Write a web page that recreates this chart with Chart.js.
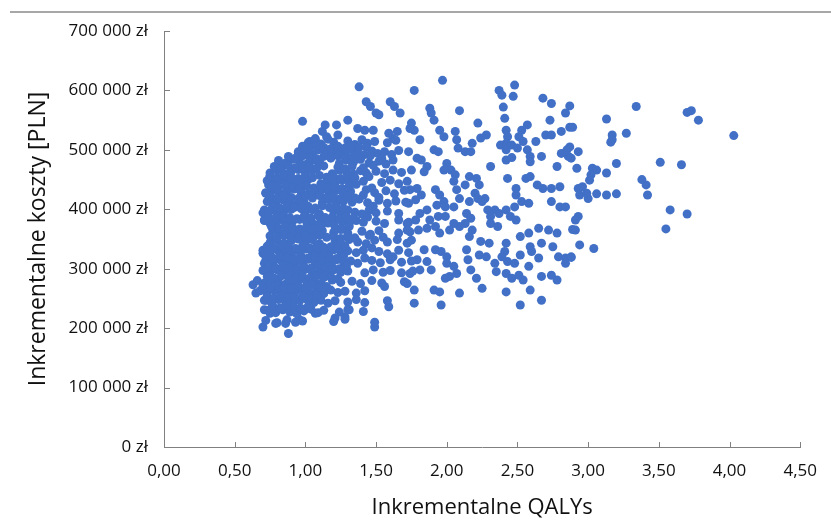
<!DOCTYPE html>
<html lang="pl">
<head>
<meta charset="utf-8">
<title>Inkrementalne koszty vs QALYs</title>
<script src="https://cdn.jsdelivr.net/npm/chart.js@4.4.1/dist/chart.umd.min.js"></script>
<style>
  html, body { margin: 0; padding: 0; background: #fff; }
  #wrap { width: 831px; height: 529px; }
</style>
</head>
<body>
<div id="wrap"><canvas id="ce" width="831" height="529"></canvas></div>
<script>
// Symulacje probabilistyczne: przyrost QALY i przyrost kosztów (tys. zł)
const qaly = [
  1.97, 1.77, 2.37, 2.39, 2.48, 2.47, 2.68, 2.74, 2.87, 2.84,
  1.88, 1.89, 1.91, 2.09, 2.40, 2.41, 2.73, 2.57, 2.53, 1.75,
  1.77, 2.22, 1.95, 1.98, 2.06, 2.07, 1.81, 2.28, 2.24, 2.42,
  2.43, 2.42, 2.46, 2.51, 2.54, 2.63, 2.70, 2.74, 2.81, 2.87,
  2.08, 2.13, 2.17, 2.18, 1.91, 1.94, 2.38, 2.42, 2.50, 2.57,
  2.59, 2.67, 2.81, 2.86, 2.93, 2.87, 1.73, 1.79, 1.82, 1.86,
  1.84, 1.75, 2.00, 2.03, 1.98, 2.31, 2.42, 2.46, 2.59, 2.78,
  2.92, 2.16, 2.21, 2.23, 2.13, 2.20, 2.27, 2.06, 2.05, 2.43,
  2.56, 2.59, 2.64, 2.68, 2.74, 2.80, 2.93, 2.94, 2.49, 2.49,
  1.74, 1.79, 1.82, 1.78, 1.73, 1.92, 1.95, 1.98, 1.93, 1.99,
  2.07, 2.09, 2.05, 2.16, 2.22, 2.25, 2.53, 2.58, 2.74, 2.80,
  2.29, 2.34, 2.37, 2.42, 2.48, 2.45, 2.49, 2.31, 2.31, 2.36,
  2.14, 2.17, 2.13, 2.09, 2.05, 1.99, 1.94, 1.88, 1.86, 1.81,
  1.78, 1.72, 1.74, 1.80, 1.86, 1.92, 1.95, 2.02, 2.18, 2.16,
  2.24, 2.30, 2.42, 2.41, 2.52, 2.58, 2.65, 2.72, 2.78, 2.59,
  2.67, 2.75, 2.91, 2.94, 1.84, 1.92, 1.96, 2.00, 1.72, 1.75,
  2.14, 2.23, 2.28, 2.34, 2.39, 2.43, 2.48, 2.52, 2.60, 2.65,
  2.58, 2.79, 2.84, 2.88, 1.79, 1.86, 1.89, 1.81, 1.74, 2.00,
  2.05, 2.07, 2.02, 2.15, 2.17, 2.21, 2.25, 2.35, 2.42, 2.46,
  2.51, 2.54, 2.67, 2.74, 2.78, 1.72, 1.77, 1.91, 1.95, 1.99,
  2.09, 2.42, 2.59, 2.67, 1.77, 1.96, 2.52,
  3.34, 3.13, 2.89, 3.17, 3.17, 3.16, 3.27, 2.88, 2.85, 3.20,
  3.51, 3.66, 3.03, 3.06, 3.02, 3.01, 3.13, 3.38, 3.41, 3.42,
  2.96, 3.00, 2.99, 3.06, 3.13, 3.20, 2.84, 2.93, 2.91, 2.89,
  3.58, 3.70, 3.55, 3.70, 3.73, 3.78, 4.03, 3.04, 2.88, 2.84,
  1.38, 1.43, 1.46, 1.50, 1.52, 1.60, 1.63, 1.67, 0.98, 1.14,
  1.22, 1.12, 1.15, 1.23, 1.30, 1.37, 1.42, 1.48, 1.59, 1.65,
  1.62, 1.74, 1.03, 1.07, 0.98, 0.95, 0.81, 0.75, 0.74, 0.72,
  0.73, 0.71, 0.71, 0.75, 0.70, 0.71, 0.74, 0.63, 0.65, 0.72,
  0.71, 0.75, 0.70, 0.79, 0.88, 0.86, 0.96, 0.95, 1.07, 1.21,
  1.28, 1.31, 1.49, 1.56, 1.59, 0.72, 0.78,
  1.02, 1.07, 1.11, 1.16, 1.20, 1.30, 1.35, 1.40, 1.44, 1.49, 1.58, 1.64,
  0.95, 1.00, 1.05, 1.09, 1.14, 1.19, 1.23, 1.28, 1.33, 1.37, 1.42, 1.47, 1.51, 1.56, 1.61, 1.66,
  0.81, 0.86, 0.91, 0.96, 1.01, 1.06, 1.10, 1.24, 1.29, 1.34, 1.39, 1.45, 1.52, 1.57, 1.62,
  0.75, 0.80, 0.85, 0.90, 0.95, 1.00, 1.05, 1.19, 1.24, 1.29, 1.34, 1.39, 1.43, 1.50, 1.56, 1.62, 1.68,
  0.73, 0.78, 0.83, 0.88, 0.93, 0.98, 1.02, 1.11, 1.16, 1.21, 1.26, 1.31, 1.36, 1.41, 1.54, 1.60, 1.66, 1.72,
  0.72, 0.77, 0.82, 0.87, 0.92, 0.97, 1.02, 1.07, 1.12, 1.17, 1.22, 1.27, 1.32, 1.43, 1.49, 1.57, 1.63, 1.70,
  0.74, 0.79, 0.84, 0.89, 0.94, 0.99, 1.12, 1.17, 1.22, 1.27, 1.33, 1.38, 1.44, 1.52, 1.58, 1.64, 1.71,
  0.70, 0.75, 0.80, 0.85, 0.90, 1.00, 1.05, 1.10, 1.20, 1.25, 1.30, 1.35, 1.40, 1.45, 1.50, 1.58, 1.66,
  0.71, 0.76, 0.81, 0.86, 0.91, 0.96, 1.01, 1.06, 1.11, 1.16, 1.21, 1.26, 1.31, 1.36, 1.41, 1.50, 1.56, 1.66, 1.73,
  0.77, 0.82, 0.87, 0.92, 0.97, 1.02, 1.07, 1.12, 1.20, 1.25, 1.30, 1.40, 1.46, 1.52, 1.66, 1.72,
  0.75, 0.80, 0.85, 0.90, 0.95, 1.00, 1.05, 1.10, 1.21, 1.25, 1.31, 1.37, 1.43, 1.49, 1.58, 1.65,
  0.70, 0.75, 0.80, 0.85, 0.90, 0.95, 1.00, 1.05, 1.10, 1.15, 1.20, 1.25, 1.30, 1.36, 1.41, 1.52, 1.58, 1.66, 1.73,
  0.72, 0.77, 0.82, 0.87, 0.92, 0.97, 1.02, 1.07, 1.12, 1.17, 1.22, 1.27, 1.32, 1.37, 1.47, 1.53, 1.60, 1.68, 1.75,
  0.70, 0.75, 0.80, 0.85, 0.90, 0.95, 1.00, 1.05, 1.10, 1.15, 1.20, 1.25, 1.30, 1.42, 1.48, 1.55, 1.60, 1.68, 1.76,
  0.66, 0.71, 0.76, 0.81, 0.86, 0.91, 0.96, 1.01, 1.06, 1.11, 1.19, 1.25, 1.33, 1.39, 1.47, 1.54, 1.70,
  0.68, 0.73, 0.78, 0.83, 0.88, 0.93, 0.98, 1.03, 1.08, 1.13, 1.18, 1.23, 1.28, 1.36, 1.42,
  0.71, 0.76, 0.81, 0.86, 0.91, 0.96, 1.01, 1.06, 1.11, 1.16, 1.21, 1.30, 1.36, 1.42, 1.58,
  0.74, 0.79, 0.84, 0.89, 0.94, 0.99, 1.04, 1.09, 1.13, 1.24, 1.30, 1.41,
  0.72, 0.80, 0.87, 0.93, 0.98, 1.20, 1.28, 1.49,
  0.98, 1.03, 1.08, 1.13, 1.18, 1.23, 1.28, 1.33, 1.38, 1.43,
  0.88, 0.93, 0.98, 1.03, 1.08, 1.13, 1.18, 1.23, 1.28, 1.33, 1.38, 1.46, 1.54,
  0.78, 0.83, 0.88, 0.93, 0.98, 1.03, 1.08, 1.13, 1.23, 1.28, 1.33, 1.41, 1.48,
  0.75, 0.80, 0.85, 0.90, 0.95, 1.00, 1.05, 1.10, 1.15, 1.20, 1.25, 1.30, 1.35, 1.45,
  0.76, 0.81, 0.86, 0.91, 0.96, 1.01, 1.06, 1.11, 1.16, 1.21, 1.26, 1.31, 1.47,
  0.75, 0.80, 0.85, 0.90, 0.95, 1.00, 1.05, 1.10, 1.15, 1.20, 1.25, 1.30, 1.35, 1.41, 1.52,
  0.77, 0.82, 0.87, 0.92, 0.97, 1.02, 1.07, 1.12, 1.17, 1.22, 1.27, 1.48,
  0.74, 0.79, 0.84, 0.89, 0.94, 0.99, 1.04, 1.09, 1.14, 1.19, 1.24, 1.29, 1.34, 1.44,
  0.76, 0.81, 0.86, 0.91, 0.96, 1.01, 1.06, 1.11, 1.21, 1.26, 1.31,
  0.75, 0.80, 0.85, 0.90, 0.95, 1.00, 1.05, 1.10, 1.15, 1.20, 1.25, 1.30, 1.35, 1.45, 1.55,
  0.73, 0.78, 0.83, 0.88, 0.93, 0.98, 1.03, 1.08, 1.13, 1.18, 1.23, 1.28, 1.47,
  0.72, 0.77, 0.82, 0.87, 0.92, 0.97, 1.02, 1.07, 1.12, 1.17, 1.22, 1.27, 1.42, 1.62,
  0.74, 0.79, 0.84, 0.89, 0.94, 0.99, 1.04, 1.09, 1.14, 1.19, 1.24, 1.29,
  0.73, 0.78, 0.83, 0.88, 0.93, 0.98, 1.03, 1.08, 1.13, 1.18, 1.23,
  0.70, 0.75, 0.80, 0.85, 0.90, 0.95, 1.00, 1.05, 1.10, 1.15,
  0.73, 0.78, 0.83, 0.88, 0.93, 0.98, 1.03, 1.08,
  0.77, 0.82, 0.87, 0.92, 0.97, 1.02
];

const kosztTys = [
  617, 600, 600, 592, 609, 590, 587, 578, 574, 562,
  570, 562, 550, 566, 572, 553, 550, 542, 533, 545,
  533, 545, 533, 522, 531, 517, 517, 525, 520, 533,
  522, 511, 508, 522, 514, 514, 525, 525, 531, 538,
  503, 497, 497, 511, 500, 497, 508, 500, 503, 500,
  489, 489, 494, 489, 497, 505, 497, 486, 483, 472,
  463, 466, 477, 466, 466, 472, 483, 487, 480, 472,
  469, 455, 452, 441, 441, 427, 418, 458, 447, 452,
  452, 455, 441, 435, 435, 438, 435, 424, 435, 424,
  433, 435, 424, 416, 410, 433, 424, 413, 407, 404,
  433, 418, 404, 413, 418, 413, 413, 410, 413, 404,
  399, 399, 393, 399, 404, 388, 382, 388, 376, 371,
  393, 385, 376, 371, 376, 388, 388, 382, 399, 393,
  382, 376, 362, 365, 368, 371, 360, 365, 365, 354,
  346, 343, 343, 329, 354, 360, 368, 365, 360, 337,
  343, 337, 365, 340, 332, 332, 329, 320, 343, 348,
  332, 323, 320, 309, 320, 312, 309, 323, 329, 318,
  304, 320, 318, 320, 315, 312, 298, 298, 292, 309,
  304, 292, 287, 315, 298, 284, 267, 295, 292, 284,
  289, 281, 287, 289, 281, 275, 264, 264, 261, 284,
  259, 261, 264, 247, 242, 239, 239,
  573, 552, 538, 525, 517, 513, 528, 486, 500, 477,
  479, 475, 469, 466, 458, 449, 461, 450, 441, 424,
  438, 418, 427, 426, 424, 426, 404, 388, 382, 366,
  399, 392, 367, 563, 566, 550, 524, 334, 319, 309,
  606, 581, 573, 562, 559, 581, 573, 562, 548, 542,
  542, 531, 522, 525, 550, 536, 533, 533, 528, 531,
  519, 536, 514, 519, 503, 497, 477, 455, 441, 427,
  413, 399, 382, 376, 326, 309, 318, 273, 259, 247,
  231, 225, 202, 208, 191, 208, 214, 231, 225, 217,
  219, 231, 202, 270, 236, 382, 379,
  512, 516, 510, 518, 513, 515, 509, 517, 511, 514, 512, 516,
  495, 499, 493, 500, 496, 491, 498, 494, 500, 495, 492, 498, 494, 497, 492, 499,
  482, 478, 484, 479, 476, 483, 480, 477, 483, 479, 484, 478, 481, 476, 483,
  461, 466, 460, 464, 467, 462, 465, 460, 466, 463, 459, 465, 461, 464, 460, 466, 462,
  448, 444, 449, 445, 442, 447, 450, 443, 448, 444, 449, 446, 442, 447, 445, 449, 443, 447,
  428, 432, 427, 431, 434, 429, 426, 431, 433, 428, 432, 427, 430, 433, 428, 431, 426, 432,
  415, 411, 416, 412, 409, 414, 411, 416, 410, 414, 412, 417, 411, 415, 410, 414, 412,
  394, 398, 393, 397, 400, 395, 399, 392, 397, 393, 399, 395, 392, 398, 394, 397, 393,
  381, 377, 382, 376, 380, 383, 378, 375, 381, 377, 382, 379, 376, 381, 378, 380, 376, 382, 378,
  364, 360, 365, 361, 358, 363, 359, 364, 361, 366, 360, 363, 358, 364, 360, 365,
  344, 348, 343, 347, 350, 345, 349, 342, 347, 344, 349, 345, 342, 348, 345, 349,
  331, 327, 332, 328, 325, 330, 333, 327, 331, 326, 332, 328, 330, 327, 331, 329, 325, 331, 327,
  314, 310, 315, 311, 308, 313, 316, 310, 314, 309, 315, 311, 313, 309, 314, 310, 315, 311, 313,
  297, 293, 298, 294, 291, 296, 299, 293, 297, 292, 298, 294, 296, 293, 298, 294, 297, 293, 296,
  280, 276, 281, 277, 274, 279, 282, 276, 280, 275, 281, 277, 279, 275, 280, 276, 278,
  263, 259, 264, 260, 257, 262, 265, 259, 263, 258, 264, 260, 262, 259, 263,
  247, 243, 248, 244, 241, 246, 249, 243, 247, 242, 246, 244, 248, 243, 246,
  230, 226, 231, 227, 224, 229, 232, 226, 230, 227, 231, 228,
  213, 209, 214, 210, 212, 211, 215, 210,
  506, 503, 507, 504, 502, 506, 503, 507, 504, 505,
  489, 486, 490, 487, 485, 489, 486, 490, 487, 488, 485, 490, 486,
  472, 469, 473, 470, 468, 472, 469, 473, 471, 468, 472, 470, 474,
  456, 453, 457, 454, 452, 456, 453, 457, 454, 455, 452, 456, 453, 455,
  439, 436, 440, 437, 435, 439, 436, 440, 437, 438, 435, 439, 436,
  422, 419, 423, 420, 418, 422, 419, 423, 420, 421, 418, 422, 419, 424, 420,
  405, 402, 406, 403, 401, 405, 402, 406, 403, 404, 401, 405,
  388, 385, 389, 386, 384, 388, 385, 389, 386, 387, 384, 388, 385, 387,
  371, 368, 372, 369, 367, 371, 368, 372, 370, 367, 371,
  355, 352, 356, 353, 351, 355, 352, 356, 353, 354, 351, 355, 352, 356, 353,
  338, 335, 339, 336, 334, 338, 335, 339, 336, 337, 334, 338, 335,
  321, 318, 322, 319, 317, 321, 318, 322, 319, 320, 317, 321, 318, 320,
  304, 301, 305, 302, 300, 304, 301, 305, 302, 303, 300, 304,
  287, 284, 288, 285, 283, 287, 284, 288, 285, 286, 283,
  271, 268, 272, 269, 267, 271, 268, 272, 269, 270,
  254, 251, 255, 252, 250, 254, 251, 255,
  237, 234, 238, 235, 233, 237
];

const xTickLabels = ['0,00', '0,50', '1,00', '1,50', '2,00', '2,50', '3,00', '3,50', '4,00', '4,50'];
const yTickLabels = ['0 zł', '100 000 zł', '200 000 zł', '300 000 zł', '400 000 zł',
                     '500 000 zł', '600 000 zł', '700 000 zł'];

const punkty = qaly.map((q, i) => ({ x: q, y: kosztTys[i] * 1000 }));

const FONT = "'Open Sans', 'Noto Sans', sans-serif";
const AXIS = '#808080';

// short tick marks pointing into the plot, plus the thin rule across the top
const innerTicks = {
    id: 'innerTicks',
    afterDraw(chart) {
        const { ctx, chartArea: a, scales: { x, y } } = chart;
        ctx.save();
        ctx.strokeStyle = AXIS;
        ctx.lineWidth = 1;
        ctx.beginPath();
        x.ticks.forEach(t => {
            const px = Math.round(x.getPixelForValue(t.value)) + 0.5;
            ctx.moveTo(px, a.bottom);
            ctx.lineTo(px, a.bottom - 5);
        });
        y.ticks.forEach(t => {
            const py = Math.round(y.getPixelForValue(t.value)) + 0.5;
            ctx.moveTo(a.left, py);
            ctx.lineTo(a.left + 6, py);
        });
        ctx.stroke();

        ctx.strokeStyle = '#8a8a8a';
        ctx.lineWidth = 1.5;
        ctx.beginPath();
        ctx.moveTo(10, 12);
        ctx.lineTo(chart.width, 12);
        ctx.stroke();
        ctx.restore();
    }
};

new Chart(document.getElementById('ce'), {
    type: 'scatter',
    data: {
        datasets: [{
            data: punkty,
            backgroundColor: '#4170c6',
            borderWidth: 0,
            pointRadius: 4.5,
            pointHoverRadius: 4.5
        }]
    },
    options: {
        responsive: false,
        animation: false,
        layout: { padding: { top: 31, right: 23, bottom: 8, left: 0 } },
        plugins: { legend: { display: false }, tooltip: { enabled: false } },
        scales: {
            x: {
                type: 'linear',
                min: 0,
                max: 4.5,
                grid: { display: false, drawTicks: false },
                border: { display: true, color: AXIS, width: 1 },
                ticks: {
                    stepSize: 0.5,
                    padding: 14,
                    color: '#111',
                    font: { family: FONT, size: 17 },
                    callback: (v, i) => xTickLabels[i]
                },
                title: {
                    display: true,
                    text: 'Inkrementalne QALYs',
                    color: '#111',
                    font: { family: FONT, size: 22 },
                    padding: { top: 0, bottom: 0 }
                },
                afterFit(s) { s.height = 74; }
            },
            y: {
                min: 0,
                max: 700000,
                grid: { display: false, drawTicks: false },
                border: { display: true, color: AXIS, width: 1 },
                ticks: {
                    stepSize: 100000,
                    padding: 16,
                    color: '#111',
                    font: { family: FONT, size: 17 },
                    callback: (v, i) => yTickLabels[i]
                },
                title: {
                    display: true,
                    text: 'Inkrementalne koszty [PLN]',
                    color: '#111',
                    font: { family: FONT, size: 23 },
                    padding: { top: 25, bottom: 0 }
                },
                afterFit(s) { s.width = 164; }
            }
        }
    },
    plugins: [innerTicks]
});
</script>
</body>
</html>
